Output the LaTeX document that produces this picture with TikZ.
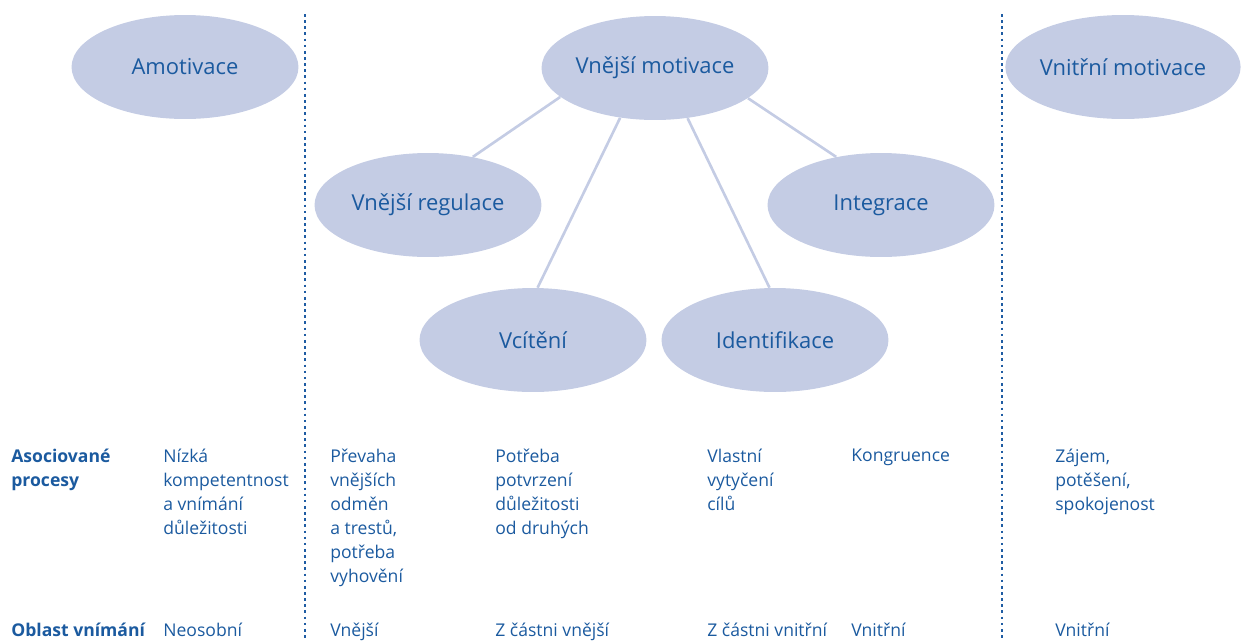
\documentclass[tikz,border=0pt]{standalone}
\usepackage{fontspec}
\setmainfont{Open Sans}
\usetikzlibrary{shapes.geometric}
\usetikzlibrary{positioning}
\definecolor{oval}{HTML}{C4CCE4}
\definecolor{ink}{HTML}{1B5A9F}
\definecolor{dots}{HTML}{1F5CA3}

\begin{document}
\begin{tikzpicture}[x=0.02cm,y=-0.02cm,
        oval/.style={ellipse,fill=oval,inner sep=0pt,minimum width=4.54cm,minimum height=2.08cm,
            text=ink,font={\fontsize{12.5pt}{15pt}\selectfont}},
        link/.style={draw=oval,line width=1.5pt},
        divider/.style={draw=dots,dotted,line width=1.5pt},
        cell/.style={anchor=north west,inner sep=0pt,align=left,text=ink,
            font={\fontsize{10pt}{13.6pt}\selectfont},execute at begin node=\strut},
        head/.style={cell,font={\fontsize{10pt}{13.6pt}\selectfont\bfseries}}]
        \useasboundingbox (0,0) rectangle (1242,640);

        % ovals
        \node (amot)  [oval] at (185,67)   {Amotivace};
        \node (motiv) [oval] at (655,68)   {Vnější motivace};
        \node (vnitr) [oval] at (1123,67)  {Vnitřní motivace};
        \node (reg)   [oval] at (428,205)  {Vnější regulace};
        \node (integ) [oval] at (881,205)  {Integrace};
        \node (vcit)  [oval] at (533,340)  {Vcítění};
        \node (ident) [oval] at (775,340)  {Identifikace};

        \draw[link] (motiv.197) -- (reg.47);
        \draw[link] (motiv.235) -- (vcit.85);
        \draw[link] (motiv.303) -- (ident.96);
        \draw[link] (motiv.342) -- (integ.133);

        % dividers
        \draw[divider] (305,14) -- (305,640);
        \draw[divider] (1002,14) -- (1002,640);

        % rows (multi-line cells sit a bit higher, hence 449 vs 444)
        \node (proc)  [head] at (11,449)   {Asociované\\procesy};
        \node (p1)    [cell] at (163,449)  {Nízká\\kompetentnost\\a vnímání\\důležitosti};
        \node (p2)    [cell] at (330,449)  {Převaha\\vnějších\\odměn\\a trestů,\\potřeba\\vyhovění};
        \node (p3)    [cell] at (495,449)  {Potřeba\\potvrzení\\důležitosti\\od druhých};
        \node (p4)    [cell] at (707,449)  {Vlastní\\vytyčení\\cílů};
        \node (p5)    [cell] at (851,444)  {Kongruence};
        \node (p6)    [cell] at (1055,449) {Zájem,\\potěšení,\\spokojenost};

        \node (obl)   [head] at (11,619)   {Oblast vnímání};
        \node (o1)    [cell] at (163,619)  {Neosobní};
        \node (o2)    [cell] at (330,619)  {Vnější};
        \node (o3)    [cell] at (495,619)  {Z částni vnější};
        \node (o4)    [cell] at (707,619)  {Z částni vnitřní};
        \node (o5)    [cell] at (851,619)  {Vnitřní};
        \node (o6)    [cell] at (1055,619) {Vnitřní};
    \end{tikzpicture}
\end{document}
